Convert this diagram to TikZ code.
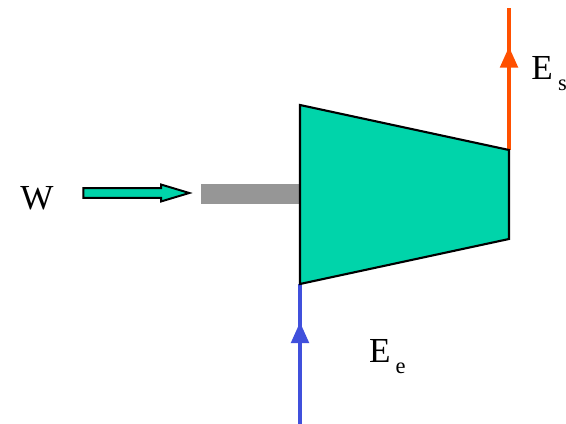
\documentclass[tikz,border=0pt]{standalone}
\usepackage{fontspec}
\setmainfont{Liberation Serif}
\usepackage{xcolor}
\usetikzlibrary{arrows.meta,positioning,calc,decorations.markings,shapes.arrows}
\definecolor{cturb}{RGB}{0,212,170}
\definecolor{cshaft}{RGB}{150,150,150}
\definecolor{cin}{RGB}{64,80,220}
\definecolor{cout}{RGB}{255,80,0}
\newcommand{\Esub}[1]{E\kern3.6pt\raisebox{-7.2pt}{\fontsize{16}{18}\selectfont #1}}
\tikzset{
  turb/.style={draw=black, fill=cturb, line width=1.5pt, line join=miter},
  shft/.style={cshaft, line width=0.5cm},
  eflow/.style={line width=2.3pt, postaction={decorate, decoration={markings,
      mark=at position 0.727 with {\arrow{Triangle[length=5.2mm, width=4.4mm]}}}}},
  wk/.style={single arrow, draw=black, fill=cturb, line width=1.4pt, inner sep=2.84pt,
      outer sep=0pt, minimum height=2.65cm, minimum width=0.375cm,
      single arrow tip angle=33.4, single arrow head extend=0.0875cm,
      single arrow head indent=0pt},
  lab/.style={font=\fontsize{25}{28}\selectfont, inner sep=0pt, anchor=base west},
}
\begin{document}
\begin{tikzpicture}[x=1cm,y=1cm]
\useasboundingbox (0,0) rectangle (14.15,10.6);
\coordinate (tl) at (7.5,7.975);
\coordinate (tr) at (12.725,6.85);
\coordinate (br) at (12.725,4.625);
\coordinate (bl) at (7.5,3.5);
\coordinate (shin) at (7.5,5.75);
\coordinate (shend) at (5.025,5.75);
\coordinate (inend) at (7.5,0);
\coordinate (outend) at (12.725,10.4);
% shaft and flows
\draw[shft] (shend) -- (shin);
\draw[eflow, cin] (inend) -- (bl);
\draw[eflow, cout] (tr) -- (outend);
\draw[turb] (tl) -- (tr) -- (br) -- (bl) -- cycle;
\node[wk] (work) at (3.2,5.775) {};
\node[lab] (wlab) at (0.5,5.35) {W};
\node[lab] (ein) at (9.22,1.525) {\Esub{e}};
\node[lab] (eout) at (13.28,8.6) {\Esub{s}};
\end{tikzpicture}
\end{document}
